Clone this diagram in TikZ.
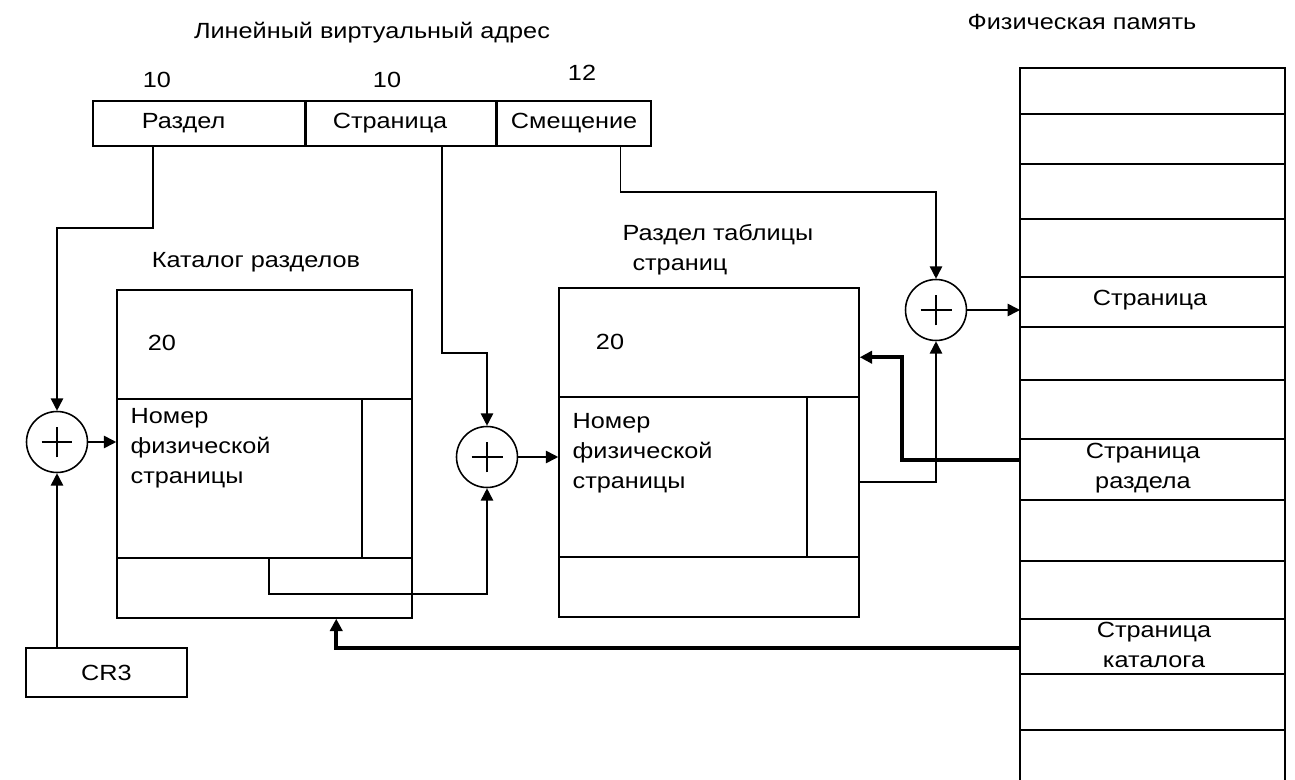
\documentclass[tikz,border=0pt]{standalone}
\usepackage{fontspec}
\setmainfont{Liberation Sans}[FakeStretch=1.15]
\usetikzlibrary{arrows.meta,calc}

\begin{document}
\begin{tikzpicture}[
    x=0.02cm, y=-0.02cm,
    font=\fontsize{12.5}{17}\selectfont,
    line width=0.9pt,
    field/.style={draw, rectangle, inner sep=0pt, minimum height=0.9cm},
    table/.style={draw, rectangle, inner sep=0pt},
    adder/.style={draw, circle, inner sep=0pt, minimum size=1.22cm,
        path picture={\draw[line width=1.1pt] (path picture bounding box.center) +(-0.31cm,0) -- +(0.31cm,0)
            +(0,-0.31cm) -- +(0,0.31cm);}},
    arrow/.style={-{Triangle[length=7pt,width=7pt]}},
    bigarrow/.style={-{Triangle[length=7pt,width=7pt]}, line width=2pt}
]
\useasboundingbox (0,0) rectangle (1295,780);

% Linear address
\node at (372,33) {Линейный виртуальный адрес};
\node[field, minimum width=4.24cm] (f1) at (199,123.5) {\hspace{-1.4em}Раздел};
\node[field, minimum width=3.78cm, anchor=west] (f2) at (f1.east) {\hspace{-1em}Страница};
\node[field, minimum width=3.08cm, anchor=west] (f3) at (f2.east) {Смещение};
\node at (157,80) {10};
\node at (387,80) {10};
\node at (582,73) {12};

% Page directory
\node at (256,262) {Каталог разделов};
\node[table, minimum width=5.9cm, minimum height=6.56cm] (t1) at (264.5,454) {};
\draw ($(t1.north west)+(0,110)$) -- ($(t1.north east)+(0,110)$);
\draw ($(t1.north west)+(0,269)$) -- ($(t1.north east)+(0,269)$);
\draw ($(t1.north west)+(246,110)$) -- ($(t1.north west)+(246,269)$);
\node at (162,343) {20};
\node[anchor=west, align=left] (n1) at (124,448) {Номер\\физической\\страницы};

% Page table
\node[anchor=west, align=left] at (616,250) {Раздел таблицы\\\hspace{0.45em}страниц};
\node[table, minimum width=6cm, minimum height=6.58cm] (t2) at (709,452.5) {};
\draw ($(t2.north west)+(0,110)$) -- ($(t2.north east)+(0,110)$);
\draw ($(t2.north west)+(0,270)$) -- ($(t2.north east)+(0,270)$);
\draw ($(t2.north west)+(249,110)$) -- ($(t2.north west)+(249,270)$);
\node at (610,342) {20};
\node[anchor=west, align=left] (n2) at (566,453) {Номер\\физической\\страницы};

% Adders and CR3
\node[adder] (a1) at (57,442) {};
\node[adder] (a2) at (487,457) {};
\node[adder] (a3) at (936,310) {};
\node[field, minimum width=3.22cm, minimum height=0.98cm] (cr3) at (106.5,672.5) {CR3};

% Physical memory
\node at (1082,22) {Физическая память};
\coordinate (memtop) at (1020,68);
\draw (1020,780) -- (memtop) -- (1285,68) -- (1285,780);
\foreach \y in {114,164,219,277,327,380,439,500,561,619,674,730}
    \draw (1020,\y) -- (1285,\y);
\node (page) at (1150,300) {Страница};
\node[align=center] (ptpage) at (1143,468) {Страница\\раздела};
\node[align=center] (dirpage) at (1154,645) {Страница\\каталога};
\coordinate (ptrow) at (1020,460);
\coordinate (dirrow) at (1020,648);

% Address fields to adders
\draw[arrow] ($(f1.south west)+(61,0)$) -- ++(0,81) -| (a1.north);
\draw[arrow] ($(f2.south west)+(136,0)$) -- ++(0,206) -| (a2.north);
\draw[arrow] ($(f3.south west)+(124,0)$) -- ++(0,45) -| (a3.north);
\draw[arrow] (cr3.north -| a1) -- (a1.south);

% Adders to tables and memory
\draw[arrow] (a1.east) -- (a1.east -| t1.west);
\draw[arrow] ($(t1.north west)+(153,269)$) -- ++(0,36) -| (a2.south);
\draw[arrow] (a2.east) -- (a2.east -| t2.west);
\draw[arrow] ($(t2.north east)+(0,195)$) -| (a3.south);
\draw[arrow] (a3.east) -- (a3.east -| memtop);

% Memory pages back to tables
\draw[bigarrow] (ptrow) -- ++(-118,0) |- ($(t2.north east)+(0,70)$);
\draw[bigarrow] (dirrow) -| ($(t1.south west)+(220,0)$);

\end{tikzpicture}
\end{document}
